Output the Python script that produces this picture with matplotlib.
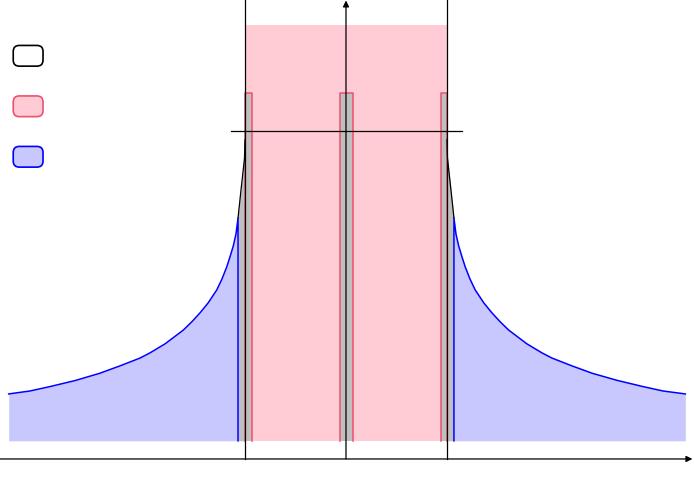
import numpy as np
import matplotlib
matplotlib.use("Agg")
import matplotlib.pyplot as plt
from matplotlib.patches import Rectangle, FancyBboxPatch

# units: barrier lines at x = +-1, axis at y = 0
# left tail of the potential (blue part)
left_x = [-3.34, -3.13, -2.93, -2.68, -2.44, -2.24, -2.04, -1.94, -1.79, -1.61,
          -1.525, -1.446, -1.366, -1.28, -1.228, -1.181, -1.149, -1.116, -1.089, -1.069]
left_y = [0.644, 0.673, 0.717, 0.777, 0.848, 0.921, 0.999, 1.051, 1.141, 1.277,
          1.360, 1.446, 1.544, 1.673, 1.782, 1.901, 2.000, 2.109, 2.228, 2.386]
# short black piece up to the barrier line
left_edge_x = [-1.069, -1.04, -1.02, -1.005, -1.0]
left_edge_y = [2.386, 2.66, 2.84, 2.98, 3.16]

right_x = [1.069, 1.089, 1.116, 1.149, 1.181, 1.228, 1.28, 1.366, 1.446, 1.525,
           1.61, 1.79, 1.94, 2.04, 2.24, 2.44, 2.69, 2.94, 3.14, 3.36]
right_y = [2.386, 2.228, 2.109, 2.000, 1.901, 1.782, 1.673, 1.544, 1.446, 1.360,
           1.277, 1.141, 1.051, 0.999, 0.921, 0.848, 0.777, 0.717, 0.673, 0.644]
right_edge_x = [1.0, 1.005, 1.02, 1.04, 1.069]
right_edge_y = [3.16, 2.98, 2.84, 2.66, 2.386]

base = 0.18          # bottom of the filled regions
well_top = 4.30      # top of the pink box
bar_top = 3.62       # top of the grey bars
level = 3.25         # horizontal line
bars = [(-1.0, -0.93), (-0.06, 0.07), (0.94, 1.0)]

pink_fill = "#ffccd5"
pink_edge = "#f0506e"
blue_fill = "#c8c8ff"
gray_fill = "#bfbfbf"

fig = plt.figure(figsize=(6.94, 4.93), dpi=100)
ax = fig.add_axes([0, 0, 1, 1])
ax.set_xlim(-3.426, 3.446)
ax.set_ylim(-0.337, 4.545)
ax.axis("off")

# pink well region
ax.add_patch(Rectangle((-1.0, base), 2.0, well_top - base, facecolor=pink_fill,
                       edgecolor="none", zorder=1))

# grey slivers under the black curve
ax.fill_between(left_edge_x, base, left_edge_y, color=gray_fill, lw=0, zorder=2)
ax.fill_between(right_edge_x, base, right_edge_y, color=gray_fill, lw=0, zorder=2)
ax.plot(left_edge_x, left_edge_y, color="black", lw=0.9, zorder=5)
ax.plot(right_edge_x, right_edge_y, color="black", lw=0.9, zorder=5)

# blue tails
ax.fill_between(left_x, base, left_y, color=blue_fill, lw=0, zorder=2)
ax.fill_between(right_x, base, right_y, color=blue_fill, lw=0, zorder=2)
ax.plot(left_x + [left_x[-1]], left_y + [base], color="blue", lw=1.1, zorder=4)
ax.plot([right_x[0]] + right_x, [base] + right_y, color="blue", lw=1.1, zorder=4)

# grey bars with pink outline
for x0, x1 in bars:
    ax.add_patch(Rectangle((x0, base), x1 - x0, bar_top - base, facecolor=gray_fill,
                           edgecolor="none", zorder=3))
    ax.plot([x0, x0, x1, x1], [base, bar_top, bar_top, base], color=pink_edge,
            lw=1.1, zorder=4)

# vertical barrier lines and level line
for xv in (-1.0, 1.0):
    ax.plot([xv, xv], [0, 4.545], color="black", lw=0.9, zorder=6)
ax.plot([-1.14, 1.15], [level, level], color="black", lw=0.9, zorder=6)

# axes with arrows
arrow = dict(arrowstyle="-|>", color="black", lw=0.9, mutation_scale=9,
             shrinkA=0, shrinkB=0)
ax.annotate("", xy=(3.43, 0), xytext=(-3.426, 0), arrowprops=arrow, zorder=7)
ax.annotate("", xy=(0, 4.54), xytext=(0, 0), arrowprops=arrow, zorder=7)

# legend boxes (no labels)
legend_boxes = [("white", "black", 3.89), (pink_fill, pink_edge, 3.39),
                (blue_fill, "blue", 2.89)]
for fc, ec, yb in legend_boxes:
    ax.add_patch(FancyBboxPatch((-3.295, yb), 0.295, 0.205,
                                boxstyle="round,pad=0,rounding_size=0.06",
                                facecolor=fc, edgecolor=ec, lw=1.2, zorder=8))

fig.savefig("out.png", dpi=100)
